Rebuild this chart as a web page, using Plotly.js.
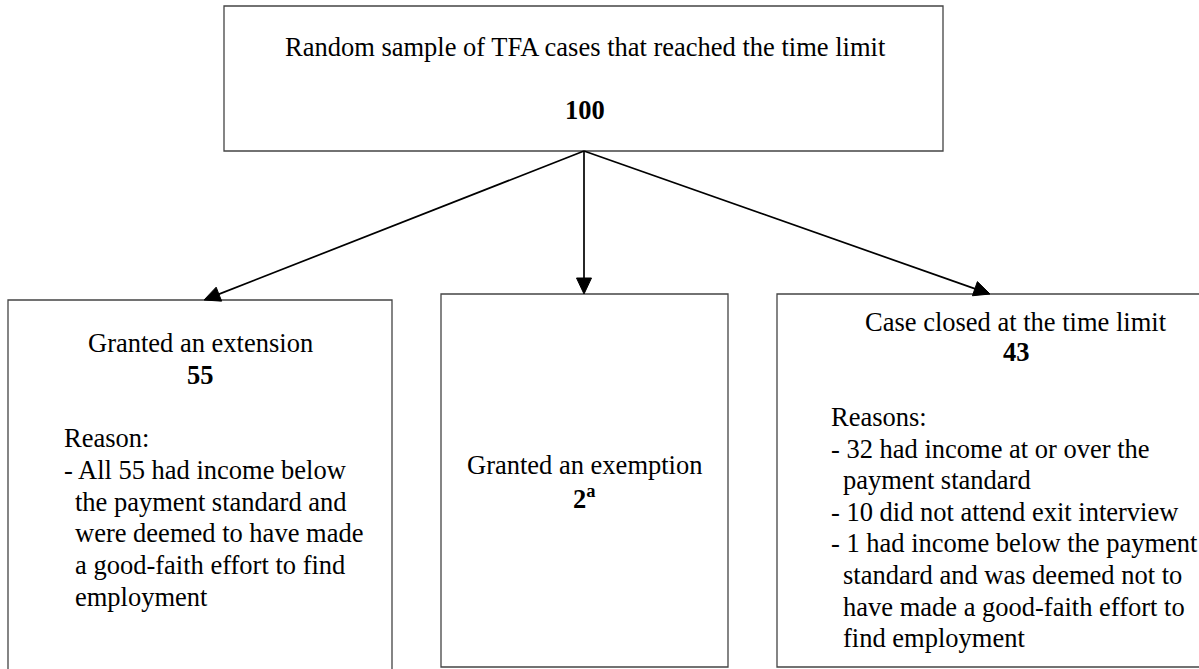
<!DOCTYPE html>
<html>
<head>
<meta charset="utf-8">
<script src="https://cdn.plot.ly/plotly-3.0.1.min.js"></script>
<style>
  html, body { margin: 0; padding: 0; background: #ffffff; }
  #chart { width: 1199px; height: 669px; }
</style>
</head>
<body>
<div id="chart"></div>
<script>
// ---------- data ----------
const nodeTitles = [
  "Random sample of TFA cases that reached the time limit",
  "Granted an extension",
  "Granted an exemption",
  "Case closed at the time limit"
];
const nodeCounts = ["100", "55", "2", "43"];
const countNotes = ["", "", "a", ""];
const extensionReasons = [
  "Reason:",
  "- All 55 had income below",
  "the payment standard and",
  "were deemed to have made",
  "a good-faith effort to find",
  "employment"
];
const closedReasons = [
  "Reasons:",
  "- 32 had income at or over the",
  "payment standard",
  "- 10 did not attend exit interview",
  "- 1 had income below the payment",
  "standard and was deemed not to",
  "have made a good-faith effort to",
  "find employment"
];

// ---------- layout geometry (pixels, y downward) ----------
const boxes = [
  {x0: 224, x1: 943, y0: 6,   y1: 151, cx: 585,  titleY: 47,  countY: 110},
  {x0: 8,   x1: 392, y0: 300, y1: 700, cx: 200,  titleY: 343, countY: 375},
  {x0: 441, x1: 728, y0: 294, y1: 667, cx: 584,  titleY: 465, countY: 497},
  {x0: 777, x1: 1260,y0: 294, y1: 667, cx: 1016, titleY: 322, countY: 352}
];
const reasonBlocks = [
  {lines: extensionReasons, x: 62,  y: 438, step: 31.8, indent: 11},
  {lines: closedReasons,    x: 829, y: 417, step: 31.6, indent: 12}
];
const arrowFrom = {x: 584, y: 151};
const arrowTips = [{x: 204, y: 300}, {x: 584, y: 294}, {x: 990, y: 294}];
const HEAD_LEN = 16, HEAD_W = 15;

const FONT = "'Liberation Serif', 'Times New Roman', Times, serif";
const FS = 26.5;

const shapes = boxes.map(b => ({
  type: "rect", xref: "x", yref: "y",
  x0: b.x0, x1: b.x1, y0: b.y0, y1: b.y1,
  line: {color: "#444444", width: 1.3},
  fillcolor: "rgba(0,0,0,0)", layer: "below"
}));

arrowTips.forEach(t => {
  const dx = t.x - arrowFrom.x, dy = t.y - arrowFrom.y;
  const len = Math.hypot(dx, dy);
  const ux = dx / len, uy = dy / len;
  const bx = t.x - ux * HEAD_LEN, by = t.y - uy * HEAD_LEN;
  const nx = -uy * HEAD_W / 2, ny = ux * HEAD_W / 2;
  shapes.push({
    type: "line", xref: "x", yref: "y",
    x0: arrowFrom.x, y0: arrowFrom.y, x1: bx + ux * 2, y1: by + uy * 2,
    line: {color: "#000000", width: 1.7}
  });
  shapes.push({
    type: "path", xref: "x", yref: "y",
    path: `M${t.x},${t.y} L${bx + nx},${by + ny} L${bx - nx},${by - ny} Z`,
    fillcolor: "#000000", line: {color: "#000000", width: 1}
  });
});

const annotations = [];
boxes.forEach((b, i) => {
  annotations.push({
    x: b.cx, y: b.titleY, xref: "x", yref: "y",
    text: nodeTitles[i], showarrow: false,
    xanchor: "center", yanchor: "middle",
    font: {family: FONT, size: FS, color: "#000000"}
  });
  const note = countNotes[i] ? "<sup>" + countNotes[i] + "</sup>" : "";
  annotations.push({
    x: b.cx, y: b.countY, xref: "x", yref: "y",
    text: "<b>" + nodeCounts[i] + note + "</b>", showarrow: false,
    xanchor: "center", yanchor: "middle",
    font: {family: FONT, size: FS, color: "#000000"}
  });
});

reasonBlocks.forEach(blk => {
  blk.lines.forEach((line, k) => {
    const isHead = k === 0 || line.startsWith("- ");
    annotations.push({
      x: blk.x + (isHead ? 0 : blk.indent), y: blk.y + k * blk.step,
      xref: "x", yref: "y",
      text: line, showarrow: false,
      xanchor: "left", yanchor: "middle",
      font: {family: FONT, size: FS, color: "#000000"}
    });
  });
});

const layout = {
  width: 1199, height: 669,
  margin: {l: 0, r: 0, t: 0, b: 0, pad: 0},
  paper_bgcolor: "#ffffff", plot_bgcolor: "#ffffff",
  showlegend: false,
  xaxis: {range: [0, 1199], visible: false, fixedrange: true},
  yaxis: {range: [669, 0], visible: false, fixedrange: true},
  shapes: shapes,
  annotations: annotations
};

Plotly.newPlot("chart", [], layout, {displayModeBar: false, staticPlot: true});
</script>
</body>
</html>
